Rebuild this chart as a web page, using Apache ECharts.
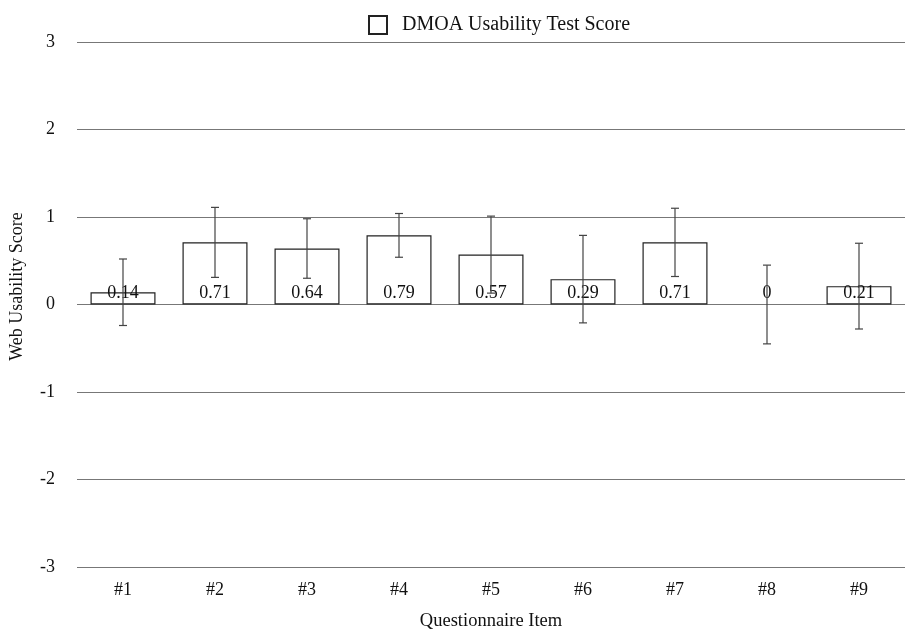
<!DOCTYPE html>
<html>
<head>
<meta charset="utf-8">
<script src="https://cdn.jsdelivr.net/npm/echarts@6/dist/echarts.min.js"></script>
<style>
	html, body { margin: 0; padding: 0; background: #fff; }
	#chart { width: 910px; height: 636px; }
</style>
</head>
<body>
<div id="chart"></div>
<script>
var categories = ['#1', '#2', '#3', '#4', '#5', '#6', '#7', '#8', '#9'];
var scores = [0.14, 0.71, 0.64, 0.79, 0.57, 0.29, 0.71, 0, 0.21];
// half-length of each error bar
var errors = [0.38, 0.40, 0.34, 0.25, 0.44, 0.50, 0.39, 0.45, 0.49];
var yTicks = [-3, -2, -1, 0, 1, 2, 3];

var font = 'Liberation Serif, Times New Roman, serif';
var chart = echarts.init(document.getElementById('chart'));

var errorData = scores.map(function(v, i){
	return [i, v - errors[i], v + errors[i]];
});
// a zero-height bar draws no outline in the original
var barData = scores.map(function(v){
	return v === 0 ? { value: v, itemStyle: { borderWidth: 0 } } : v;
});

chart.setOption({
	animation: false,
	grid: { left: 77, right: 5, top: 42, bottom: 68 },
	legend: {
		top: 10,
		left: 363,
		itemWidth: 18,
		itemHeight: 18,
		icon: 'rect',
		textStyle: { fontFamily: font, fontSize: 20, color: '#111', padding: [0, 0, 0, 10] },
		data: ['DMOA Usability Test Score']
	},
	xAxis: {
		type: 'category',
		data: categories,
		name: 'Questionnaire Item',
		nameLocation: 'middle',
		nameGap: 45,
		nameTextStyle: { fontFamily: font, fontSize: 18.5, color: '#111' },
		axisLine: { show: false },
		axisTick: { show: false },
		axisLabel: { fontFamily: font, fontSize: 18, color: '#111', margin: 14 }
	},
	yAxis: {
		type: 'value',
		min: yTicks[0],
		max: yTicks[yTicks.length - 1],
		interval: 1,
		name: 'Web Usability Score',
		nameLocation: 'middle',
		nameGap: 51,
		nameTextStyle: { fontFamily: font, fontSize: 18, color: '#111', padding: [0, 0, 0, 36] },
		axisLine: { show: false },
		axisTick: { show: false },
		axisLabel: { fontFamily: font, fontSize: 18, color: '#111', margin: 22 },
		splitLine: { lineStyle: { color: '#777', width: 1 } }
	},
	series: [{
		name: 'DMOA Usability Test Score',
		type: 'bar',
		data: barData,
		barWidth: 65,
		itemStyle: { color: '#fff', borderColor: '#222', borderWidth: 1.2 },
		label: {
			show: true,
			position: 'insideBottom',
			distance: 2,
			fontFamily: font,
			fontSize: 18,
			color: '#111'
		},
		z: 2
	}, {
		type: 'custom',
		data: errorData,
		z: 3,
		renderItem: function(params, api){
			var x = api.value(0);
			var lo = api.coord([x, api.value(1)]);
			var hi = api.coord([x, api.value(2)]);
			var cap = 4;
			var style = { stroke: '#444', lineWidth: 1.2, fill: null };
			return {
				type: 'group',
				children: [
					{ type: 'line', shape: { x1: hi[0], y1: hi[1], x2: lo[0], y2: lo[1] }, style: style },
					{ type: 'line', shape: { x1: hi[0] - cap, y1: hi[1], x2: hi[0] + cap, y2: hi[1] }, style: style },
					{ type: 'line', shape: { x1: lo[0] - cap, y1: lo[1], x2: lo[0] + cap, y2: lo[1] }, style: style }
				]
			};
		}
	}]
});
</script>
</body>
</html>
